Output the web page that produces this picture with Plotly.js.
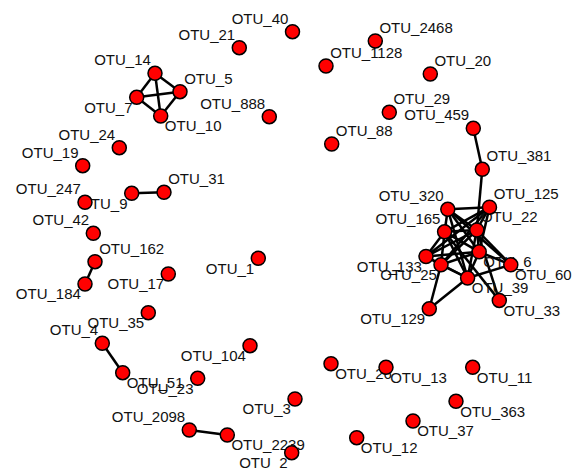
<!DOCTYPE html>
<html>
<head>
<meta charset="utf-8">
<script src="https://cdn.plot.ly/plotly-3.0.1.min.js"></script>
<style>html,body{margin:0;padding:0;background:#fff;}#chart{width:581px;height:470px;}</style>
</head>
<body>
<div id="chart"></div>
<script>
// Node names and layout coordinates
const nodeNames = ["OTU_40","OTU_21","OTU_14","OTU_5","OTU_7","OTU_10","OTU_888","OTU_24","OTU_19","OTU_247","OTU_9","OTU_31","OTU_42","OTU_162","OTU_184","OTU_17","OTU_1","OTU_35","OTU_4","OTU_51","OTU_23","OTU_104","OTU_3","OTU_2098","OTU_2239","OTU_2","OTU_26","OTU_13","OTU_11","OTU_363","OTU_37","OTU_12","OTU_2468","OTU_1128","OTU_20","OTU_29","OTU_459","OTU_88","OTU_381","OTU_320","OTU_125","OTU_165","OTU_22","OTU_133","OTU_25","OTU_6","OTU_60","OTU_39","OTU_33","OTU_129"];
const nodeX = [292.5,239.3,155,180,136.7,160.7,269.3,119.3,82.7,85,131.7,164,93.3,95,85,168.3,258.3,148.3,102.3,122.7,197.7,250,295,189.3,227.3,291.7,331,386,472.7,456,413,356.7,375.3,326,430.3,389.3,473.3,331.7,482.3,447.8,489.5,444.6,476.8,426,441,479.2,510.8,467.6,499.3,429.3];
const nodeY = [31.7,47.7,73.3,91.7,97.3,116,116.7,147.7,165.7,202.3,193.3,192.3,233.3,261.7,284,274,258.3,312.7,343.3,372.7,378.3,345.7,399,430,435,452.7,363.7,367.3,367.3,401.3,421,437.7,41,66,74,112.3,128.3,144,169.3,209.3,207.2,231.8,230,256.5,264.8,251.8,264.8,278,300.4,308.8];
const labelPos = ["top left","top left","top left","top right","bottom left","bottom right","top left","top left","top left","top left","bottom left","top right","top left","top right","bottom left","bottom left","bottom left","bottom left","top left","bottom right","bottom left","bottom left","bottom left","top left","bottom right","bottom left","bottom right","bottom right","bottom right","bottom right","bottom right","bottom right","top right","top right","top right","top right","top left","top right","top right","top left","top right","top left","top right","bottom left","bottom left","bottom right","bottom right","bottom right","bottom right","bottom left"];

// Edges (source, target)
const edgeFrom = ["OTU_14","OTU_14","OTU_14","OTU_5","OTU_5","OTU_7","OTU_9","OTU_162","OTU_4","OTU_2098","OTU_459","OTU_381",
  "OTU_320","OTU_320","OTU_320","OTU_320","OTU_320","OTU_320",
  "OTU_125","OTU_125","OTU_125","OTU_125","OTU_125",
  "OTU_165","OTU_165","OTU_165","OTU_165","OTU_165","OTU_165",
  "OTU_22","OTU_22","OTU_22","OTU_22","OTU_22","OTU_22",
  "OTU_133","OTU_133","OTU_133",
  "OTU_25","OTU_25","OTU_25",
  "OTU_6","OTU_6",
  "OTU_39","OTU_39"];
const edgeTo = ["OTU_5","OTU_7","OTU_10","OTU_7","OTU_10","OTU_10","OTU_31","OTU_184","OTU_51","OTU_2239","OTU_381","OTU_22",
  "OTU_125","OTU_165","OTU_22","OTU_6","OTU_39","OTU_60",
  "OTU_165","OTU_22","OTU_133","OTU_25","OTU_6",
  "OTU_22","OTU_133","OTU_25","OTU_6","OTU_39","OTU_33",
  "OTU_133","OTU_25","OTU_6","OTU_39","OTU_60","OTU_33",
  "OTU_25","OTU_6","OTU_39",
  "OTU_6","OTU_39","OTU_129",
  "OTU_39","OTU_60",
  "OTU_129","OTU_60"];

const idx = {};
nodeNames.forEach((n, i) => idx[n] = i);
const ex = [], ey = [];
for (let k = 0; k < edgeFrom.length; k++) {
  const a = idx[edgeFrom[k]], b = idx[edgeTo[k]];
  ex.push(nodeX[a], nodeX[b], null);
  ey.push(nodeY[a], nodeY[b], null);
}

const edges = {
  type: "scatter", mode: "lines", x: ex, y: ey,
  line: {color: "#000000", width: 2.5},
  hoverinfo: "skip", showlegend: false
};
const labels = {
  type: "scatter", mode: "markers+text", x: nodeX, y: nodeY,
  text: nodeNames, textposition: labelPos,
  textfont: {family: "Liberation Sans, Arial, sans-serif", size: 15, color: "#111111"},
  marker: {size: 5, color: "rgba(0,0,0,0)", line: {width: 0}},
  cliponaxis: false, showlegend: false, hoverinfo: "skip"
};
const nodes = {
  type: "scatter", mode: "markers", x: nodeX, y: nodeY,
  marker: {size: 14, color: "#FF0000", line: {color: "#000000", width: 1.5}},
  cliponaxis: false, showlegend: false
};
const layout = {
  width: 581, height: 470,
  margin: {l: 0, r: 0, t: 0, b: 0},
  paper_bgcolor: "#ffffff", plot_bgcolor: "#ffffff",
  xaxis: {range: [0, 581], visible: false, fixedrange: true},
  yaxis: {range: [470, 0], visible: false, fixedrange: true},
  showlegend: false
};
Plotly.newPlot("chart", [edges, labels, nodes], layout, {displayModeBar: false, staticPlot: true});
</script>
</body>
</html>
